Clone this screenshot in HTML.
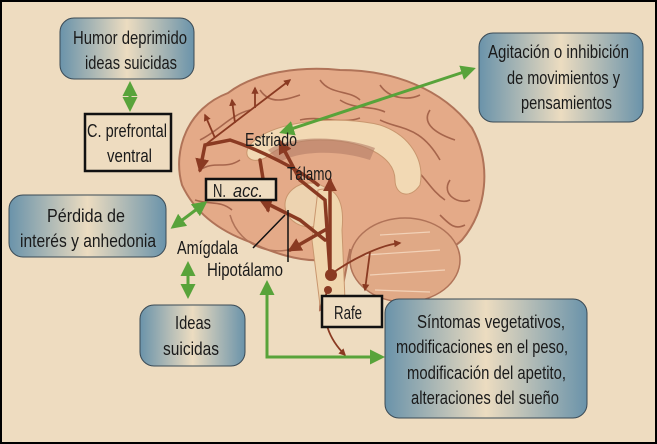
<!DOCTYPE html>
<html><head><meta charset="utf-8"><style>
html,body{margin:0;padding:0;background:#000}
svg{display:block}
text{font-family:"Liberation Sans Narrow","Liberation Sans",sans-serif;fill:#1a1a1a;font-size:18px}
</style></head><body>
<svg width="657" height="444" viewBox="0 0 657 444" xmlns="http://www.w3.org/2000/svg">
<defs>
<linearGradient id="bx" x1="0" x2="1" y1="0" y2="0">
<stop offset="0" stop-color="#6a93aa"/><stop offset="0.5" stop-color="#ecdcc0"/><stop offset="1" stop-color="#6a93aa"/>
</linearGradient>
<marker id="ga" viewBox="0 0 10 10" refX="8" refY="5" markerWidth="5" markerHeight="5" orient="auto-start-reverse"><path d="M0,0 L10,5 L0,10 z" fill="#58a33a"/></marker>
<marker id="ba" viewBox="0 0 10 10" refX="8" refY="5" markerWidth="4" markerHeight="4" orient="auto"><path d="M0,0 L10,5 L0,10 z" fill="#8a3a22"/></marker>
</defs>
<rect x="0" y="0" width="657" height="444" fill="#000"/>
<rect x="2" y="2" width="653" height="440" fill="#eedcc0"/>

<path d="M182,185 C172,150 188,108 228,93 C255,72 300,66 340,70 C392,70 442,88 472,128 C492,165 487,210 462,240 C447,255 432,250 420,245 C400,255 370,255 350,250 L340,300 L320,310 L322,260 C300,262 270,252 250,242 C222,232 196,215 182,185 Z" fill="#e4aa88" stroke="#b07358" stroke-width="2"/>
<g fill="none" stroke="#9c5a42" stroke-width="1.6" opacity="0.85">
<path d="M200,140 C220,130 230,115 250,110"/><path d="M260,90 C270,105 285,100 300,95"/>
<path d="M320,80 C330,95 350,90 360,100"/><path d="M380,85 C390,100 410,100 420,95"/>
<path d="M430,110 C420,125 440,135 455,140"/><path d="M300,120 C320,115 340,125 360,118"/>
<path d="M380,120 C400,130 420,125 440,160"/><path d="M450,180 C440,195 460,205 470,200"/>
<path d="M200,170 C215,160 225,170 240,160"/><path d="M410,165 C425,175 430,190 445,200"/>
<path d="M340,100 C355,110 370,105 385,112"/><path d="M440,215 C450,225 455,230 465,225"/>
<path d="M195,200 C210,205 220,200 232,210"/>
</g>
<path d="M250,145 C270,120 340,115 380,125 C410,135 425,160 420,185 C410,200 395,195 395,180 C395,155 360,140 320,140 C290,140 275,150 265,158 C250,165 242,155 250,145 Z" fill="#f2d9b4" stroke="#c9966e" stroke-width="1"/>
<path d="M268,150 C290,135 340,135 375,148 L370,160 C340,150 300,150 280,162 Z" fill="#b47d68" opacity="0.6"/>
<ellipse cx="310" cy="205" rx="25" ry="22" fill="#edd3b0" stroke="#c9966e"/>
<path d="M318,190 C335,185 345,200 342,230 L345,300 L320,305 L312,240 Z" fill="#f0d6ae" stroke="#c9966e"/>
<ellipse cx="405" cy="260" rx="55" ry="42" fill="#e0a986" stroke="#b07358" stroke-width="1.5"/>
<g fill="none" stroke="#f2d2b8" stroke-width="1.2"><path d="M365,255 L440,250"/><path d="M370,275 L445,270"/><path d="M380,235 L430,232"/><path d="M375,290 L430,292"/></g>
<path d="M230,215 C240,250 280,258 300,245" fill="none" stroke="#b07358" stroke-width="1.5"/>

<g fill="none" stroke="#8a3a22" stroke-width="3.5" stroke-linecap="round">
<path d="M330,272 L325,200 L300,180"/>
<path d="M325,240 L300,220 L270,205"/>
<path d="M318,185 C300,170 260,150 230,140 L205,145 L200,170" marker-end="url(#ba)"/>
<path d="M330,272 L330,180" marker-end="url(#ba)"/>
<path d="M325,230 L290,250" marker-end="url(#ba)"/>
<path d="M300,180 L280,142" marker-end="url(#ba)"/>
<path d="M260,160 L268,210" marker-end="url(#ba)"/>
</g>
<g fill="none" stroke="#8a3a22" stroke-width="1.8">
<path d="M205,145 L290,80" marker-end="url(#ba)"/>
<path d="M215,138 L205,115" marker-end="url(#ba)"/>
<path d="M235,123 L232,100" marker-end="url(#ba)"/>
<path d="M255,108 L255,88" marker-end="url(#ba)"/>
<path d="M330,275 C350,260 380,245 400,243" marker-end="url(#ba)"/>
<path d="M370,252 L365,290" marker-end="url(#ba)"/>
<path d="M327,290 C320,320 330,340 345,355" marker-end="url(#ba)"/>
</g>
<circle cx="331" cy="275" r="6" fill="#8a3a22"/><circle cx="328" cy="290" r="4" fill="#8a3a22"/>
<g stroke="#111" stroke-width="1.5"><line x1="253" y1="248" x2="285" y2="215"/><line x1="288" y1="262" x2="288" y2="210"/></g>

<g stroke="#58a33a" stroke-width="3" fill="none">
<line x1="130" y1="84" x2="130" y2="109" marker-start="url(#ga)" marker-end="url(#ga)"/>
<line x1="173" y1="227" x2="205" y2="203" marker-start="url(#ga)" marker-end="url(#ga)"/>
<line x1="282" y1="132" x2="473" y2="69" marker-start="url(#ga)" marker-end="url(#ga)"/>
<line x1="188" y1="264" x2="188" y2="296" marker-start="url(#ga)" marker-end="url(#ga)"/>
<polyline points="267,283 267,357 382,357" marker-start="url(#ga)" marker-end="url(#ga)"/>
</g>

<g fill="url(#bx)" stroke="#3a4a55" stroke-width="1">
<rect x="60" y="18" width="134" height="61" rx="14"/>
<rect x="479" y="33" width="164" height="89" rx="14"/>
<rect x="9" y="195" width="157" height="62" rx="14"/>
<rect x="140" y="305" width="105" height="61" rx="14"/>
<rect x="385" y="299" width="202" height="119" rx="14"/>
</g>
<g fill="#eedcc0" stroke="#111" stroke-width="2.5">
<rect x="85" y="114" width="86" height="57"/>
<rect x="206" y="179" width="70" height="21"/>
<rect x="322" y="296" width="60" height="31"/>
</g>

<text x="73" y="44" textLength="114" lengthAdjust="spacingAndGlyphs">Humor deprimido</text>
<text x="85" y="69" textLength="92" lengthAdjust="spacingAndGlyphs">ideas suicidas</text>
<text x="87" y="137" textLength="80" lengthAdjust="spacingAndGlyphs">C. prefrontal</text>
<text x="107" y="162" textLength="45" lengthAdjust="spacingAndGlyphs">ventral</text>
<text x="488" y="58" textLength="141" lengthAdjust="spacingAndGlyphs">Agitación o inhibición</text>
<text x="507" y="84" textLength="113" lengthAdjust="spacingAndGlyphs">de movimientos y</text>
<text x="521" y="109" textLength="91" lengthAdjust="spacingAndGlyphs">pensamientos</text>
<text x="47" y="222" textLength="78" lengthAdjust="spacingAndGlyphs">Pérdida de</text>
<text x="20" y="247" textLength="136" lengthAdjust="spacingAndGlyphs">interés y anhedonia</text>
<text x="175" y="329" textLength="36" lengthAdjust="spacingAndGlyphs">Ideas</text>
<text x="163" y="355" textLength="56" lengthAdjust="spacingAndGlyphs">suicidas</text>
<text x="417" y="328" textLength="148" lengthAdjust="spacingAndGlyphs">Síntomas vegetativos,</text>
<text x="396" y="353" textLength="172" lengthAdjust="spacingAndGlyphs">modificaciones en el peso,</text>
<text x="407" y="379" textLength="159" lengthAdjust="spacingAndGlyphs">modificación del apetito,</text>
<text x="411" y="404" textLength="148" lengthAdjust="spacingAndGlyphs">alteraciones del sueño</text>
<text x="177" y="254" textLength="61" lengthAdjust="spacingAndGlyphs">Amígdala</text>
<text x="207" y="276" textLength="76" lengthAdjust="spacingAndGlyphs">Hipotálamo</text>
<text x="245" y="146" textLength="52" lengthAdjust="spacingAndGlyphs">Estriado</text>
<text x="287" y="180" textLength="45" lengthAdjust="spacingAndGlyphs">Tálamo</text>
<text x="213" y="197" textLength="13" lengthAdjust="spacingAndGlyphs">N.</text>
<text x="233" y="197" font-style="italic" textLength="30" lengthAdjust="spacingAndGlyphs">acc.</text>
<text x="334" y="319" textLength="28" lengthAdjust="spacingAndGlyphs">Rafe</text>
</svg>
</body></html>
